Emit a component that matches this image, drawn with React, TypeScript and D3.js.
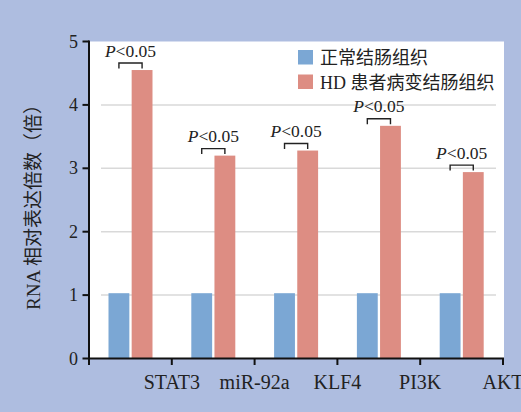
import React from "react";
import * as d3 from "d3";

const categories = ["STAT3", "miR-92a", "KLF4", "PI3K", "AKT"];
const series = ["正常结肠组织", "HD 患者病变结肠组织"];
const normalValues = [1.03, 1.03, 1.03, 1.03, 1.03];
const hdValues = [4.55, 3.2, 3.28, 3.67, 2.94];
const yTicks = [0, 1, 2, 3, 4, 5];
const gridTicks = [1, 2, 3, 4];
const pLabel = "<0.05";
const yTitle = "RNA 相对表达倍数（倍）";

const W = 521;
const H = 412;
const colors = ["#7ba7d4", "#dd8d83"];
const serif = "'Liberation Serif', 'Times New Roman', 'Noto Sans CJK SC', serif";
const cjk = "'Liberation Serif', 'Noto Sans CJK SC', serif";

export default function App() {
  const x = d3.scaleBand<string>().domain(categories).range([89, 503]).padding(0);
  const bw = x.bandwidth();
  const xs = d3.scaleBand<string>().domain(series).range([19.5, 63.5]).paddingInner(0.1);
  const y = d3.scaleLinear().domain([0, 5]).range([358.5, 41.5]);
  const sbw = xs.bandwidth();
  const tickPositions = [x(categories[0])!, ...categories.map((c) => x(c)! + bw)];

  return (
    <svg width={W} height={H} style={{ position: "absolute", left: 0, top: 0 }}>
      <rect x={0} y={0} width={W} height={H} fill="#aebde0" />
      <rect x={90} y={41.5} width={414} height={317} fill="#ffffff" />
      {gridTicks.map((t) => (
        <line key={t} x1={101} x2={496} y1={y(t)} y2={y(t)} stroke="#d9d9d9" strokeWidth={1.5} />
      ))}
      {categories.map((c, i) => {
        const bx = x(c)!;
        const nx = bx + xs(series[0])!;
        const hx = bx + xs(series[1])!;
        const top = y(hdValues[i]);
        const bTop = top - 7;
        const c1 = nx + sbw / 2;
        const c2 = hx + sbw / 2;
        return (
          <g key={c}>
            <rect x={nx} y={y(normalValues[i])} width={sbw} height={y(0) - y(normalValues[i])} fill={colors[0]} />
            <rect x={hx} y={top} width={sbw} height={y(0) - top} fill={colors[1]} />
            <path d={`M${c1},${bTop + 5.5}V${bTop}H${c2}V${bTop + 5.5}`} fill="none" stroke="#222" strokeWidth={1.4} />
            <text x={(c1 + c2) / 2} y={bTop - 6.5} textAnchor="middle" fontFamily={serif} fontSize={17.5} fill="#222">
              <tspan fontStyle="italic">P</tspan>
              {pLabel}
            </text>
          </g>
        );
      })}
      {/* y axis */}
      <line x1={89} x2={89} y1={40.5} y2={360} stroke="#111" strokeWidth={2} />
      {yTicks.map((t) => (
        <g key={t}>
          <line x1={82.5} x2={89} y1={y(t)} y2={y(t)} stroke="#111" strokeWidth={2} />
          <text x={78} y={y(t) + 6} textAnchor="end" fontFamily={serif} fontSize={18} fill="#222">
            {t}
          </text>
        </g>
      ))}
      {/* x axis */}
      <line x1={88} x2={504} y1={y(0)} y2={y(0)} stroke="#111" strokeWidth={2.2} />
      {tickPositions.map((p, i) => (
        <line key={i} x1={p} x2={p} y1={y(0)} y2={365} stroke="#111" strokeWidth={2} />
      ))}
      {categories.map((c) => (
        <text key={c} x={x(c)! + bw} y={389} textAnchor="middle" fontFamily={serif} fontSize={20} fill="#222">
          {c}
        </text>
      ))}
      <text
        transform={`translate(40,202.5) rotate(-90)`}
        textAnchor="middle"
        fontFamily={cjk}
        fontSize={19}
        fill="#222"
      >
        {yTitle}
      </text>
      {series.map((s, i) => (
        <g key={s}>
          <rect x={298} y={50 + i * 24.5} width={15} height={14.5} fill={colors[i]} />
          <text x={320} y={64 + i * 24.5} fontFamily={cjk} fontSize={18} fill="#222">
            {s}
          </text>
        </g>
      ))}
    </svg>
  );
}
